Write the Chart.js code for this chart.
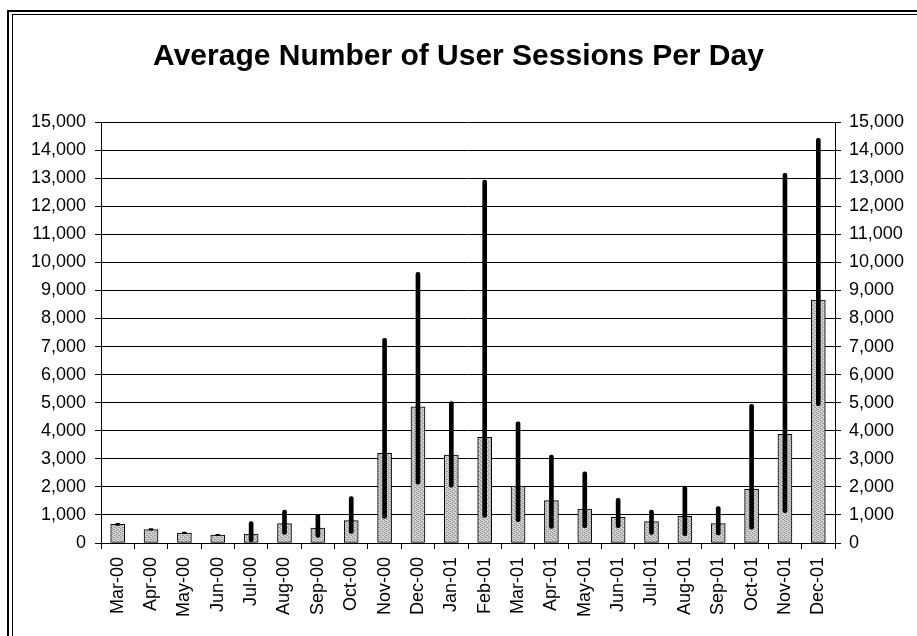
<!DOCTYPE html>
<html>
<head>
<meta charset="utf-8">
<script src="https://cdn.jsdelivr.net/npm/chart.js@4.4.1/dist/chart.umd.min.js"></script>
<style>
  html, body { margin: 0; padding: 0; background: #fff; overflow: hidden; }
  #wrap { position: relative; width: 917px; height: 636px; }
  #chart { position: absolute; left: 0; top: 0; }
  .frame { position: absolute; width: 2000px; height: 2000px; pointer-events: none; }
  .frame.outer { left: 7px; top: 10px; border-left: 2px solid #000; border-top: 2px solid #000; }
  .frame.inner { left: 12px; top: 14px; border-left: 1px solid #000; border-top: 1px solid #000; }
</style>
</head>
<body>
<div id="wrap">
  <canvas id="chart" width="917" height="636"></canvas>
  <div class="frame outer"></div>
  <div class="frame inner"></div>
</div>
<script>
// ─── Data ────────────────────────────────────────────────────
const months = [
  'Mar-00','Apr-00','May-00','Jun-00','Jul-00','Aug-00','Sep-00','Oct-00',
  'Nov-00','Dec-00','Jan-01','Feb-01','Mar-01','Apr-01','May-01','Jun-01',
  'Jul-01','Aug-01','Sep-01','Oct-01','Nov-01','Dec-01'
];
// average sessions per day (bars)
const avgSessions = [
  665, 475, 355, 285, 320, 690, 535, 795,
  3195, 4855, 3135, 3765, 2030, 1510, 1210, 915,
  760, 950, 690, 1910, 3870, 8655
];
// daily low / high (black range lines)
const lowSessions = [
  630, 460, 330, 260, 50, 310, 200, 345,
  880, 2100, 1985, 915, 760, 520, 545, 545,
  310, 260, 285, 490, 1080, 4890
];
const highSessions = [
  700, 510, 385, 310, 760, 1175, 1020, 1650,
  7290, 9640, 5035, 12930, 4320, 3135, 2540, 1590,
  1175, 2030, 1295, 4940, 13170, 14420
];
const yMin = 0, yMax = 15000, yStep = 1000;

// ─── Hatched bar fill ────────────────────────────────────────
function hatchPattern() {
  const c = document.createElement('canvas');
  c.width = 4; c.height = 4;
  const g = c.getContext('2d');
  g.fillStyle = '#d4d4d4';
  g.fillRect(0, 0, 4, 4);
  g.fillStyle = '#9a9a9a';
  [[0,0],[2,1],[0,2],[2,3],[1,1],[3,3]].forEach(([x, y]) => g.fillRect(x, y, 1, 1));
  return g.createPattern(c, 'repeat');
}

const font = { family: "'Liberation Sans', Arial, sans-serif", size: 18 };

new Chart(document.getElementById('chart'), {
  type: 'bar',
  data: {
    labels: months,
    datasets: [
      {
        label: 'Range',
        data: lowSessions.map((l, i) => [l, highSessions[i]]),
        backgroundColor: '#000',
        borderWidth: 0,
        barThickness: 4,
        borderRadius: 2,
        borderSkipped: false,
        grouped: false,
        order: 0,
        yAxisID: 'y'
      },
      {
        label: 'Average',
        data: avgSessions,
        backgroundColor: hatchPattern(),
        borderColor: '#000',
        borderWidth: 1,
        borderSkipped: false,
        barThickness: 14,
        grouped: false,
        order: 1,
        yAxisID: 'y'
      }
    ]
  },
  options: {
    responsive: false,
    animation: false,
    devicePixelRatio: 1,
    locale: 'en-US',
    layout: { padding: { top: 15, left: 0, right: 0, bottom: 0 } },
    plugins: {
      legend: { display: false },
      tooltip: { enabled: false },
      title: {
        display: true,
        text: 'Average Number of User Sessions Per Day',
        color: '#000',
        font: { family: font.family, size: 30, weight: 'bold', lineHeight: 1.2 },
        padding: { top: 24, bottom: 47 }
      }
    },
    scales: {
      x: {
        offset: true,
        grid: { offset: true, drawOnChartArea: false, drawTicks: true, tickLength: 6, color: '#000' },
        border: { color: '#000', width: 1 },
        ticks: { color: '#000', font, autoSkip: false, minRotation: 90, maxRotation: 90, padding: 8 },
        afterFit: s => { s.height = 93; }
      },
      y: {
        position: 'left',
        min: yMin, max: yMax,
        grid: { color: '#000', tickLength: 6 },
        border: { color: '#000', width: 1 },
        ticks: { stepSize: yStep, color: '#000', font, padding: 9 },
        afterFit: s => { s.width = 101; }
      },
      y2: {
        position: 'right',
        min: yMin, max: yMax,
        grid: { drawOnChartArea: false, color: '#000', tickLength: 6 },
        border: { color: '#000', width: 1 },
        ticks: { stepSize: yStep, color: '#000', font, padding: 8 },
        afterFit: s => { s.width = 82; }
      }
    }
  }
});
</script>
</body>
</html>
